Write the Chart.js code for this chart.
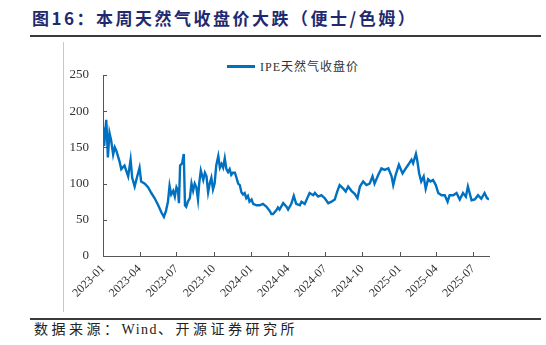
<!DOCTYPE html>
<html>
<head>
<meta charset="utf-8">
<script src="https://cdn.jsdelivr.net/npm/chart.js@4"></script>
<style>
  html, body { margin: 0; padding: 0; background: #fff; }
  body { width: 546px; height: 345px; position: relative; overflow: hidden; }
  #title {
    position: absolute; left: 32px; top: 5px;
    font: bold 17px "Noto Sans CJK SC", sans-serif; letter-spacing: 2.5px;
    color: #1f2a6e; white-space: nowrap;
  }
  .rule { position: absolute; left: 30px; width: 511px; height: 2px; background: #3a3a3a; }
  #frame { position: absolute; left: 63px; top: 42px; width: 1px; height: 270px; background: #c8c8c8; }
  #legend {
    position: absolute; left: 227px; top: 58px; height: 16px;
    font: 12px "Liberation Serif", "Noto Sans CJK SC", serif; letter-spacing: 1px; color: #333;
    display: flex; align-items: center; white-space: nowrap;
  }
  #legend i { display: inline-block; width: 28px; height: 3px; background: #0070c0; margin-right: 5px; }
  #source {
    position: absolute; left: 34px; top: 318px;
    font: 14px "Liberation Serif", "Noto Sans CJK SC", serif; letter-spacing: 3.5px;
    color: #222; white-space: nowrap;
  }
  #source span { letter-spacing: 1.5px; }
  #wrap { position: absolute; left: 0; top: 40px; width: 546px; height: 278px; }
</style>
</head>
<body>
<div id="title">图16：本周天然气收盘价大跌（便士/色姆）</div>
<div class="rule" style="top:35px"></div>
<div id="frame"></div>
<div id="legend"><i></i>IPE天然气收盘价</div>
<div id="wrap"><canvas id="chart"></canvas></div>
<div class="rule" style="top:318px"></div>
<div id="source">数据来源：<span>Wind</span>、开源证券研究所</div>

<script>
// x values: days since 2023-01-01
const dayOffsets = [
  0, 3, 6, 8, 10, 12, 16, 20, 25, 29, 33, 41, 45, 53, 62, 68, 72, 78, 82, 90,
  94, 103, 111, 119, 127, 136, 144, 150, 155, 160, 164, 168, 173, 177, 181, 185, 187, 190, 195, 199,
  202, 205, 209, 214, 218, 222, 226, 230, 234, 237, 241, 247, 251, 255, 259, 263, 267, 271, 275, 279,
  284, 288, 292, 296, 300, 304, 308, 312, 316, 320, 325, 329, 333, 337, 341, 345, 349, 353, 357, 361,
  366, 370, 378, 386, 394, 403, 411, 415, 419, 427, 431, 435, 444, 452, 456, 464, 470, 476, 485, 489,
  497, 505, 509, 518, 522, 530, 538, 546, 555, 563, 571, 577, 583, 592, 598, 604, 612, 620, 627, 633,
  641, 649, 657, 664, 669, 678, 686, 694, 703, 711, 715, 721, 729, 738, 746, 752, 760, 764, 771, 774,
  779, 784, 790, 795, 801, 807, 813, 820, 826, 834, 842, 849, 854, 863, 871, 879, 887, 894, 899, 908,
  916, 924, 932, 940, 946, 951
];
const ipeClose = [
  178, 152, 175, 188, 165, 136, 170, 160, 140, 150, 145, 130, 120, 125, 110, 133, 108, 96, 105, 122,
  103, 100, 95, 87, 80, 70, 60, 54, 62, 75, 97, 85, 90, 82, 95, 90, 73, 125, 128, 141,
  70, 68, 75, 80, 100, 90, 100, 95, 78, 100, 118, 105, 115, 110, 88, 100, 108, 92, 100, 125,
  138, 122, 127, 122, 135, 120, 116, 120, 112, 115, 115, 108, 100, 98, 88, 85, 87, 80, 83, 75,
  78, 72, 70, 70, 72, 68, 62, 58, 58, 63, 67, 64, 73, 68, 64, 72, 83, 72, 70, 75,
  72, 82, 87, 84, 87, 82, 84, 80, 73, 75, 78, 89, 98, 93, 89, 96, 90, 86, 80, 96,
  103, 98, 100, 110, 100, 112, 121, 119, 121, 110, 98, 112, 126, 114, 121, 126, 133, 128, 141, 133,
  114, 103, 110, 93, 106, 103, 105, 98, 87, 84, 84, 75, 84, 84, 87, 78, 87, 82, 96, 77,
  78, 84, 79, 87, 80, 78
];
const tickLabels = ['2023-01', '2023-04', '2023-07', '2023-10', '2024-01', '2024-04',
  '2024-07', '2024-10', '2025-01', '2025-04', '2025-07'];

const base = Date.UTC(2023, 0, 1);
const tickDays = tickLabels.map(s => {
  const [y, m] = s.split('-').map(Number);
  return Math.round((Date.UTC(y, m - 1, 1) - base) / 86400000);
});

const axisColor = '#555';
const serif = { family: '"Liberation Serif", "Times New Roman", serif', size: 13 };

// small inward tick marks, like the original
const innerTicks = {
  id: 'innerTicks',
  afterDraw(chart) {
    const { ctx, chartArea, scales: { x, y } } = chart;
    ctx.save();
    ctx.strokeStyle = axisColor;
    ctx.lineWidth = 1;
    ctx.beginPath();
    x.ticks.forEach(t => {
      const px = Math.round(x.getPixelForValue(t.value)) + 0.5;
      ctx.moveTo(px, chartArea.bottom);
      ctx.lineTo(px, chartArea.bottom - 4);
    });
    y.ticks.forEach(t => {
      const py = Math.round(y.getPixelForValue(t.value)) + 0.5;
      ctx.moveTo(chartArea.left, py);
      ctx.lineTo(chartArea.left + 4, py);
    });
    ctx.stroke();
    ctx.restore();
  }
};

new Chart(document.getElementById('chart'), {
  type: 'line',
  data: {
    datasets: [{
      label: 'IPE天然气收盘价',
      data: dayOffsets.map((d, i) => ({ x: d, y: ipeClose[i] })),
      borderColor: '#0070c0',
      borderWidth: 2.4,
      pointRadius: 0,
      tension: 0,
      fill: false,
    }]
  },
  options: {
    responsive: true,
    maintainAspectRatio: false,
    animation: false,
    layout: { padding: { left: 0, right: 57, top: 35, bottom: 0 } },
    plugins: { legend: { display: false }, tooltip: { enabled: false } },
    scales: {
      x: {
        type: 'linear',
        min: 0,
        max: 951,
        afterBuildTicks: s => { s.ticks = tickDays.map(v => ({ value: v })); },
        afterFit: s => { s.height = 62; },
        grid: { display: false, drawTicks: false },
        border: { display: true, color: axisColor, width: 1 },
        ticks: {
          autoSkip: false,
          maxRotation: 45,
          minRotation: 45,
          padding: 6,
          color: '#333',
          font: { family: serif.family, size: 12 },
          callback: v => tickLabels[tickDays.indexOf(v)] ?? ''
        }
      },
      y: {
        min: 0,
        max: 250,
        afterFit: s => { s.width = 103; },
        grid: { display: false, drawTicks: false },
        border: { display: true, color: axisColor, width: 1 },
        ticks: { stepSize: 50, padding: 14, color: '#333', font: serif }
      }
    }
  },
  plugins: [innerTicks]
});
</script>
</body>
</html>
